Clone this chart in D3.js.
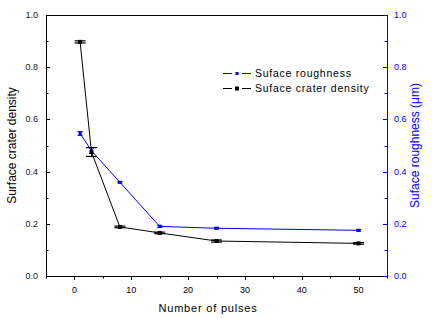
<!DOCTYPE html>
<html><head><meta charset="utf-8">
<script src="https://cdn.jsdelivr.net/npm/d3@7"></script>
<style>body{margin:0;background:#fff}svg{display:block}text{font-family:"Liberation Sans",Arial,sans-serif}</style>
</head><body><svg id="c" width="432" height="319"></svg>
<script>
const pulses = [1, 3, 8, 15, 25, 50];
const craterDensity = [0.897, 0.475, 0.188, 0.165, 0.134, 0.125];
const craterErr = [0.004, 0.017, 0.003, 0.003, 0.004, 0.003];
const roughness = [0.546, 0.48, 0.359, 0.19, 0.183, 0.175];
const roughErr = [0.007, 0.01, 0.003, 0.004, 0.003, 0.003];
const xTicks = [0, 10, 20, 30, 40, 50];
const yTicks = [0, 0.2, 0.4, 0.6, 0.8, 1.0];

const svg = d3.select("#c");
const L = 46, R = 387, T = 15, B = 276;
const x = d3.scaleLinear().domain([-5, 55]).range([L, R]);
const yl = d3.scaleLinear().domain([0, 1]).range([B, T]);
const yr = d3.scaleLinear().domain([0, 1]).range([B, T]);
const blue = "#0000ff";

svg.append("line").attr("x1", L).attr("x2", R).attr("y1", T + 0.5).attr("y2", T + 0.5).attr("stroke", "#000");

const gx = svg.append("g").attr("transform", `translate(0,${B})`);
gx.append("line").attr("x1", L).attr("x2", R).attr("y1", 0.5).attr("y2", 0.5).attr("stroke", "#000");
d3.range(-5, 56, 5).forEach(v => {
  const major = v % 10 === 0;
  gx.append("line").attr("x1", Math.round(x(v)) + 0.5).attr("x2", Math.round(x(v)) + 0.5)
    .attr("y1", 0).attr("y2", major ? 4 : 2.5).attr("stroke", "#000");
});
xTicks.forEach(v => gx.append("text").attr("x", x(v)).attr("y", 17).attr("text-anchor", "middle")
  .attr("font-size", 9).attr("fill", "#000").text(v));

const gl = svg.append("g").attr("transform", `translate(${L},0)`);
gl.append("line").attr("x1", 0.5).attr("x2", 0.5).attr("y1", T).attr("y2", B + 1).attr("stroke", "#000");
d3.range(0, 1.01, 0.1).forEach((v, i) => {
  gl.append("line").attr("x1", 0).attr("x2", i % 2 === 0 ? 4 : 2.5)
    .attr("y1", Math.round(yl(v)) + 0.5).attr("y2", Math.round(yl(v)) + 0.5).attr("stroke", "#000");
});
yTicks.forEach(v => gl.append("text").attr("x", -8).attr("y", yl(v) + 3).attr("text-anchor", "end")
  .attr("font-size", 9).attr("fill", "#222").text(v.toFixed(1)));

const gr = svg.append("g").attr("transform", `translate(${R},0)`);
gr.append("line").attr("x1", 0.5).attr("x2", 0.5).attr("y1", T).attr("y2", B + 1).attr("stroke", blue);
d3.range(0, 1.01, 0.1).forEach((v, i) => {
  gr.append("line").attr("x1", 0).attr("x2", i % 2 === 0 ? -4 : -2.5)
    .attr("y1", Math.round(yr(v)) + 0.5).attr("y2", Math.round(yr(v)) + 0.5).attr("stroke", blue);
});
yTicks.forEach(v => gr.append("text").attr("x", 7).attr("y", yr(v) + 3).attr("text-anchor", "start")
  .attr("font-size", 9).attr("fill", blue).text(v.toFixed(1)));

svg.append("text").attr("transform", `translate(${16},${(T + B) / 2}) rotate(-90)`).attr("text-anchor", "middle")
  .attr("font-size", 12).attr("fill", "#000").text("Surface crater density");
svg.append("text").attr("transform", `translate(${419},${(T + B) / 2}) rotate(-90)`).attr("text-anchor", "middle")
  .attr("font-size", 12).attr("fill", blue).text("Suface roughness (\u03bcm)");
svg.append("text").attr("x", 208).attr("y", 312).attr("text-anchor", "middle").attr("font-size", 11)
  .attr("letter-spacing", 0.8).attr("fill", "#000").text("Number of pulses");

function series(vals, errs, scale, color, capW, mk) {
  const pts = pulses.map((p, i) => [x(p), scale(vals[i]), errs[i], vals[i]]);
  svg.append("path").attr("d", d3.line()(pts.map(d => [d[0], d[1]]))).attr("fill", "none")
    .attr("stroke", color).attr("stroke-width", 1);
  pts.forEach(d => {
    const yt = scale(d[3] + d[2]), yb = scale(d[3] - d[2]);
    svg.append("line").attr("x1", d[0]).attr("x2", d[0]).attr("y1", yt).attr("y2", yb).attr("stroke", color);
    [yt, yb].forEach(yy => svg.append("line").attr("x1", d[0] - capW / 2).attr("x2", d[0] + capW / 2)
      .attr("y1", yy).attr("y2", yy).attr("stroke", color).attr("stroke-width", 1.2));
    svg.append("rect").attr("x", d[0] - mk / 2).attr("y", d[1] - mk / 2).attr("width", mk).attr("height", mk).attr("fill", color);
  });
}
series(roughness, roughErr, yr, blue, 5, 3);
series(craterDensity, craterErr, yl, "#000", 11, 4);

const legend = [["Suface roughness", blue, 3, 73], ["Suface crater density", "#000", 4, 88]];
legend.forEach(([label, color, mk, yy]) => {
  svg.append("line").attr("x1", 223).attr("x2", 232).attr("y1", yy + 0.5).attr("y2", yy + 0.5).attr("stroke", color);
  svg.append("line").attr("x1", 242).attr("x2", 251).attr("y1", yy + 0.5).attr("y2", yy + 0.5).attr("stroke", color);
  svg.append("rect").attr("x", 237 - mk / 2).attr("y", yy + 0.5 - mk / 2).attr("width", mk).attr("height", mk).attr("fill", color);
  svg.append("text").attr("x", 255).attr("y", yy + 4).attr("font-size", 10.5).attr("letter-spacing", 0.75)
    .attr("fill", "#000").text(label);
});
</script></body></html>
